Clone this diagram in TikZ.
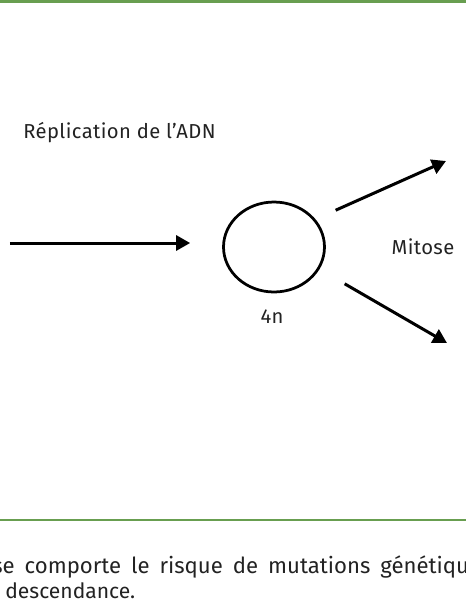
\documentclass[tikz,border=0pt]{standalone}
\usepackage{fontspec}
\setmainfont[LetterSpace=2]{Fira Sans}
\newfontfamily\bodyfont{Fira Sans}
\usetikzlibrary{arrows.meta, shapes.geometric, positioning}
\definecolor{rulegreen}{RGB}{104,158,80}
\definecolor{inkgray}{RGB}{34,34,34}

\begin{document}
\begin{tikzpicture}[x=0.02cm, y=-0.02cm,
    cell/.style={ellipse, draw=black, line width=0.055cm, minimum width=2.02cm, minimum height=1.80cm, inner sep=0pt},
    flow/.style={-{Triangle[length=0.28cm, width=0.3cm]}, line width=0.06cm},
    lbl/.style={font=\fontsize{11.5}{14}\selectfont, text=inkgray, inner sep=0pt},
    bodytext/.style={text=inkgray, inner sep=0pt, anchor=base west},
    rule/.style={draw=rulegreen, line width=0.055cm}]
\useasboundingbox (0,0) rectangle (466,600);
\clip (0,0) rectangle (466,600);
% green rules
\draw[rule] (0,1.5) -- (466,1.5);
\draw[rule] (0,520) -- (466,520);
% cell and labels
\node[cell] (cell) at (274,247) {};
\node[lbl] (ploidy) at (272,317) {4n};
\node[lbl, anchor=base west] (replic) at (23,138) {Réplication de l’ADN};
\node[lbl] (mitose) at (423,247) {Mitose};
\coordinate (start) at (10,243);
\coordinate (split1) at (446,161);
\coordinate (split2) at (447,343);
\draw[flow, shorten >=0.64cm] (start) -- (start -| cell.west);
\draw[flow] ([shift={(0.5cm,0.08cm)}]cell.north east) -- (split1);
\draw[flow] ([shift={(0.68cm,-0.08cm)}]cell.south east) -- (split2);
% cut-off body text
\node[bodytext, font=\bodyfont\fontsize{12.6}{15}\selectfont] (body1) at (-8,573) {\spaceskip=0.2cm\relax se comporte le risque de mutations génétiques};
\node[bodytext, font=\bodyfont\fontsize{12}{15}\selectfont] (body2) at (5,598) {descendance.};
\end{tikzpicture}
\end{document}
